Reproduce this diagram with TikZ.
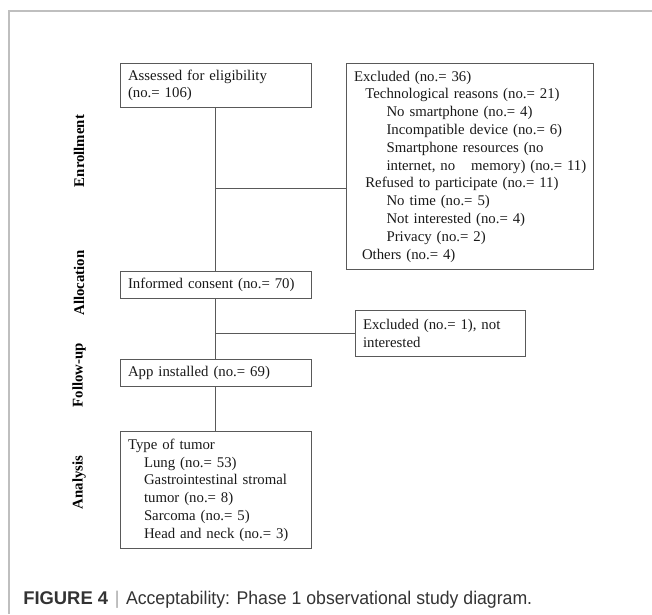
\documentclass[tikz,border=0pt]{standalone}
\usepackage{fontspec}
\setmainfont{Liberation Serif}
\newfontfamily\capfont[FakeStretch=0.96]{Liberation Sans}
\newfontfamily\capbold{Liberation Sans}

\begin{document}
\begin{tikzpicture}[x=0.75pt, y=-0.75pt,
        box/.style={draw=black!65, line width=0.8pt, anchor=north west, align=left,
            inner xsep=5.6pt, inner ysep=0pt, text=black!90,
            font=\fontsize{11.1}{13.35}\selectfont},
        phase/.style={rotate=90, font=\fontsize{11.1}{13.35}\selectfont\bfseries},
        link/.style={draw=black!65, line width=0.8pt},
        frame/.style={draw=black!25, line width=1.1pt}]
        \useasboundingbox (0,0) rectangle (652,614);
        \draw[frame] (652,11) -- (9,11) -- (9,614);

        % boxes
        \node[box, text width=131.8pt, minimum height=33.2pt] (assess) at (120,62.7)
            {Assessed for eligibility\\(no.= 106)};
        \node[box, text width=174.3pt, minimum height=155pt] (excl) at (346,62.7)
            {Excluded (no.= 36)\\
             \hspace*{8.5pt}Technological reasons (no.= 21)\\
             \hspace*{24.4pt}No smartphone (no.= 4)\\
             \hspace*{24.4pt}Incompatible device (no.= 6)\\
             \hspace*{24.4pt}Smartphone resources (no\\
             \hspace*{24.4pt}internet, no\hspace{12pt}memory) (no.= 11)\\
             \hspace*{8.5pt}Refused to participate (no.= 11)\\
             \hspace*{24.4pt}No time (no.= 5)\\
             \hspace*{24.4pt}Not interested (no.= 4)\\
             \hspace*{24.4pt}Privacy (no.= 2)\\
             \hspace*{6pt}Others (no.= 4)};
        \node[box, text width=131.8pt, minimum height=20.3pt] (consent) at (120,270.7)
            {Informed consent (no.= 70)};
        \node[box, text width=116.1pt, minimum height=34pt] (excl2) at (355,310.3)
            {Excluded (no.= 1), not\\interested};
        \node[box, text width=131.8pt, minimum height=20pt] (app) at (120,359.3)
            {App installed (no.= 69)};
        \node[box, text width=131.8pt, minimum height=87.8pt] (tumor) at (120,431)
            {Type of tumor\\
             \hspace*{12pt}Lung (no.= 53)\\
             \hspace*{12pt}Gastrointestinal stromal\\
             \hspace*{12pt}tumor (no.= 8)\\
             \hspace*{12pt}Sarcoma (no.= 5)\\
             \hspace*{12pt}Head and neck (no.= 3)};

        % phase labels
        \foreach \y/\name in {151/Enrollment, 283/Allocation, 375/Follow-up, 482.5/Analysis}
            \node[phase] (\name) at (79,\y) {\name};

        % connectors
        \coordinate (split) at (215.3,188.3);
        \draw[link] (assess.south) -- (consent.north);
        \draw[link] (consent.south) -- (app.north);
        \draw[link] (app.south) -- (tumor.north);
        \draw[link] (split) -- (split -| excl.west);
        \draw[link] (consent.south |- excl2.west) -- (excl2.west);

        \node[anchor=base west, inner sep=0pt, text=black!80,
            font=\fontsize{13.8}{16}\capfont] (caption) at (23,604.5)
            {{\capbold\bfseries FIGURE 4}\hspace{5pt}{\color{black!35}|}\hspace{5pt}Acceptability: Phase 1 observational study diagram.};
    \end{tikzpicture}
\end{document}
